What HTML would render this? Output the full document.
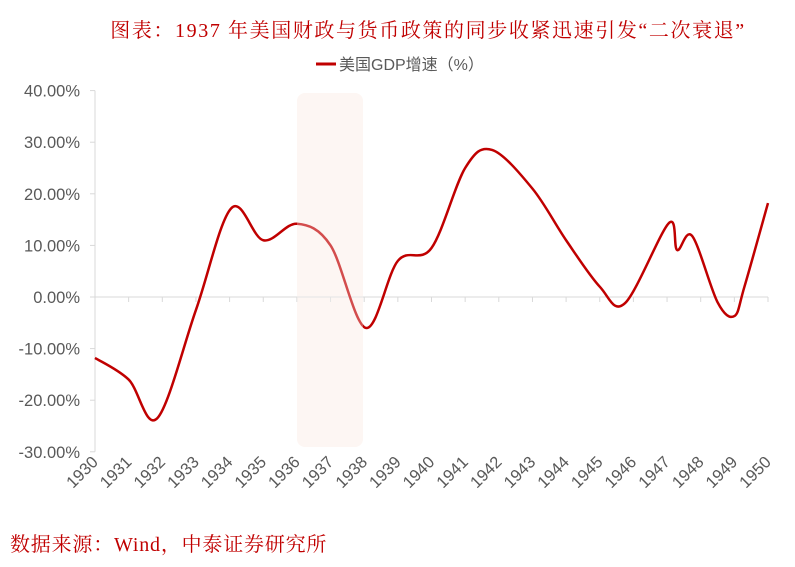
<!DOCTYPE html>
<html><head><meta charset="utf-8"><style>
body{margin:0;background:#fff;width:795px;height:567px;overflow:hidden}
svg{display:block}
</style></head><body>
<svg width="795" height="567" font-family="'Liberation Sans','Noto Sans CJK SC',sans-serif">
<text x="428" y="37" text-anchor="middle" font-family="'Liberation Serif','Noto Serif CJK SC',serif" font-size="20" letter-spacing="1.6" fill="#c00000">图表：1937 年美国财政与货币政策的同步收紧迅速引发“二次衰退”</text>
<g>
<line x1="316" y1="64" x2="336" y2="64" stroke="#c00000" stroke-width="3"/>
<text x="339" y="70" font-size="16" fill="#595959">美国GDP增速（%）</text>
</g>
<rect x="297" y="93" width="66" height="354" rx="8" fill="#fdf3ee"/>
<g id="axes"></g>
<path id="line" fill="none" stroke="#c00000" stroke-width="2.5"/>
<rect x="297" y="93" width="66" height="354" rx="8" fill="#fff" opacity="0.3"/>
<text x="10" y="551" font-family="'Liberation Serif','Noto Serif CJK SC',serif" font-size="20" letter-spacing="0.8" fill="#c00000">数据来源：Wind，中泰证券研究所</text>
</svg>
<script>
const years=[1930,1931,1932,1933,1934,1935,1936,1937,1938,1939,1940,1941,1942,1943,1944,1945,1946,1947,1948,1949,1950];
const yTicks=[40,30,20,10,0,-10,-20,-30];
const pointYears=[1930,1931,1931.85,1933,1934.05,1935,1936,1937,1938.05,1939,1940,1941,1941.8,1943,1944,1945,1945.75,1947.05,1947.3,1947.75,1948.5,1949,1949.3,1950];
const gdpValues=[-11.8,-16,-23.5,-2.5,17.2,11,14.2,10,-6,7,9.5,25,28.5,21,11,2,-1.2,14.3,9.1,11.8,-1,-3.7,2,18.2];
const x=v=>95+(v-1930)*(673/20);
const y=v=>297-v*5.16;
const ns="http://www.w3.org/2000/svg";
const ax=document.getElementById('axes');
function mk(t,a,p){const e=document.createElementNS(ns,t);for(const k in a)e.setAttribute(k,a[k]);(p||ax).appendChild(e);return e;}
let l=mk('line',{x1:95,y1:y(40),x2:95,y2:y(-30),stroke:'#d9d9d9'});


yTicks.forEach(t=>{
 const tk=mk('line',{x1:90,y1:y(t),x2:95,y2:y(t),stroke:'#d9d9d9'});
 
 
 const tx=mk('text',{x:80,y:y(t)+6,'text-anchor':'end','font-size':16.5,fill:'#595959'});
 tx.textContent=t.toFixed(2)+'%';
 
 
});
l=mk('line',{x1:95,y1:y(0),x2:x(1950),y2:y(0),stroke:'#d9d9d9'});


years.forEach(yr=>{
 const tk=mk('line',{x1:x(yr),y1:y(0),x2:x(yr),y2:y(0)+5,stroke:'#d9d9d9'});
 
 
 const tx=mk('text',{x:x(yr)+4,y:463,'text-anchor':'end','font-size':16.5,fill:'#595959',transform:`rotate(-45 ${x(yr)+4} 463)`});
 tx.textContent=yr;
 
 
});
const P=pointYears.map((v,i)=>[x(v),y(gdpValues[i])]);
let d='M'+P[0][0]+','+P[0][1];
for(let i=0;i<P.length-1;i++){
 const p0=P[i-1]||P[i],p1=P[i],p2=P[i+1],p3=P[i+2]||p2,k=6;
 d+=` C${p1[0]+(p2[0]-p0[0])/k},${p1[1]+(p2[1]-p0[1])/k} ${p2[0]-(p3[0]-p1[0])/k},${p2[1]-(p3[1]-p1[1])/k} ${p2[0]},${p2[1]}`;
}
document.getElementById('line').setAttribute('d',d);
</script>
</body></html>
